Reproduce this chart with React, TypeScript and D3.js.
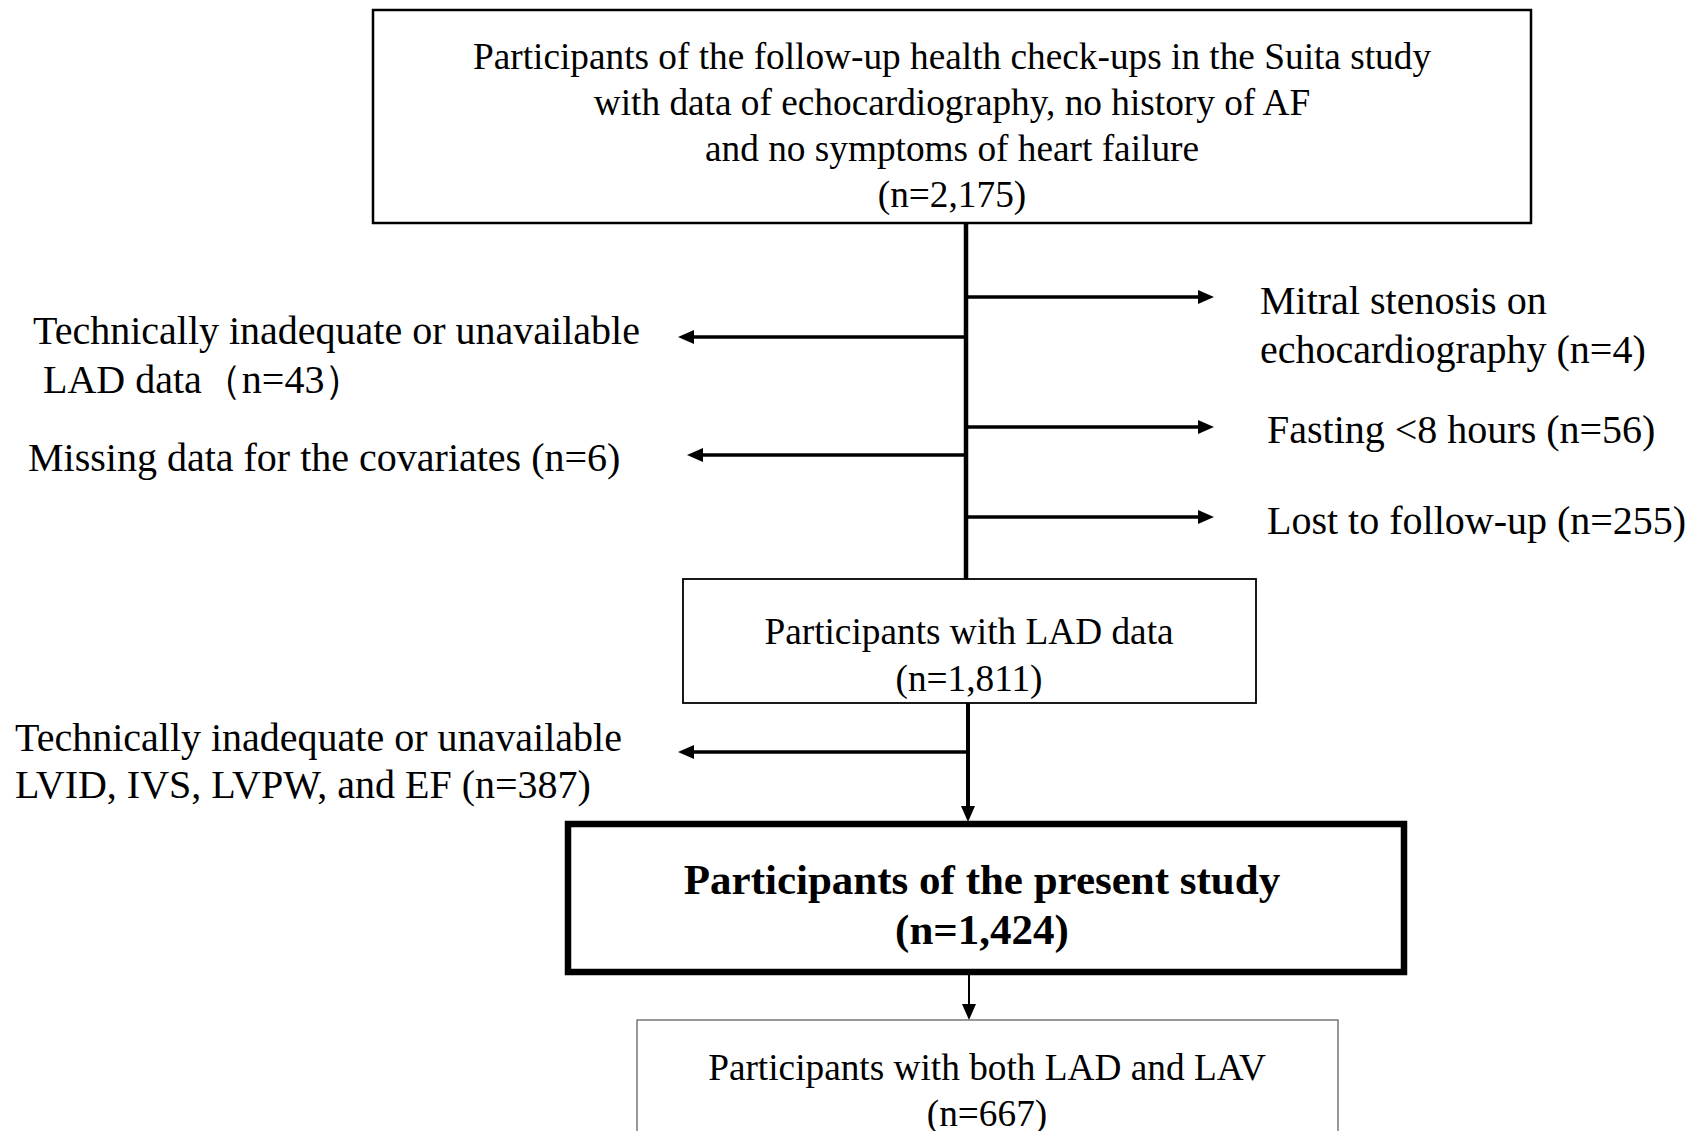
import React from 'react'
import * as d3 from 'd3'

// flow chart content
const topLines = [
  'Participants of the follow-up health check-ups in the Suita study',
  'with data of echocardiography, no history of AF',
  'and no symptoms of heart failure',
]
const topN = '2,175'
const ladLines = ['Participants with LAD data']
const ladN = '1,811'
const presentLines = ['Participants of the present study']
const presentN = '1,424'
const bothLines = ['Participants with both LAD and LAV']
const bothN = '667'

// exclusions off the first vertical line
const rightExcl = [
  ['Mitral stenosis on', 'echocardiography (n=4)'],
  ['Fasting <8 hours (n=56)'],
  ['Lost to follow-up (n=255)'],
]
const leftExcl = [
  ['Technically inadequate or unavailable', ' LAD data\uFF08n=43\uFF09'],
  ['Missing data for the covariates (n=6)'],
]
// exclusion off the second vertical line
const leftExcl2 = [['Technically inadequate or unavailable', 'LVID, IVS, LVPW, and EF (n=387)']]

const W = 1702
const H = 1131
const FONT = '"Liberation Serif", "Times New Roman", serif'
const FS_BOX = 37.3
const FS_EXCL = 40
const LH = 46

function arrowHead(x, y, dir) {
  // dir: 'r', 'l', 'd'
  const p = d3.path()
  const L = 16, hw = 7
  if (dir === 'r') { p.moveTo(x, y); p.lineTo(x - L, y - hw); p.lineTo(x - L, y + hw) }
  if (dir === 'l') { p.moveTo(x, y); p.lineTo(x + L, y - hw); p.lineTo(x + L, y + hw) }
  if (dir === 'd') { p.moveTo(x, y); p.lineTo(x - hw, y - L); p.lineTo(x + hw, y - L) }
  p.closePath()
  return p.toString()
}

function Arrow({ x1, y1, x2, y2, dir, width = 3.5 }) {
  const line = d3.line()([[x1, y1], dir === 'r' ? [x2 - 10, y2] : dir === 'l' ? [x2 + 10, y2] : [x2, y2 - 10]])
  return <g>
    <path d={line} stroke="#000" strokeWidth={width} fill="none" />
    <path d={arrowHead(x2, y2, dir)} fill="#000" />
  </g>
}

function Lines({ lines, x, y, anchor = 'start', bold = false, size = FS_BOX, lh = LH }) {
  return <text x={x} y={y} textAnchor={anchor} fontFamily={FONT} fontSize={size}
    fontWeight={bold ? 'bold' : 'normal'} fill="#000" style={{ whiteSpace: 'pre' }}>
    {lines.map((l, i) => <tspan key={i} x={x} y={y + i * lh}>{l}</tspan>)}
  </text>
}

export default function App() {
  const trunkX = 966
  const trunk2X = 968
  const rightY = [297, 427, 517]
  const leftY = [337, 455]
  const rightTextY = [302, 431, 522]
  const leftTextY = [332, 459]
  const leftTip = [678, 687]

  return (
    <svg width={W} height={H} style={{ position: 'absolute', left: 0, top: 0, background: '#fff' }}>
      <rect x={0} y={0} width={W} height={H} fill="#fff" />

      {/* top box */}
      <rect x={373} y={10} width={1531 - 373} height={223 - 10} fill="none" stroke="#000" strokeWidth={2.5} />
      <Lines lines={[...topLines, `(n=${topN})`]} x={952} y={69} anchor="middle" />

      {/* trunk */}
      <line x1={trunkX} y1={223} x2={trunkX} y2={579} stroke="#000" strokeWidth={4.5} />
      {rightY.map((y, i) => <Arrow key={'r' + i} x1={trunkX} y1={y} x2={1214} y2={y} dir="r" />)}
      {leftY.map((y, i) => <Arrow key={'l' + i} x1={trunkX} y1={y} x2={leftTip[i]} y2={y} dir="l" />)}

      {rightExcl.map((ls, i) => <Lines key={'rt' + i} lines={ls} x={i === 0 ? 1260 : 1267} y={rightTextY[i] + 12} lh={49} size={FS_EXCL} />)}
      {leftExcl.map((ls, i) => <Lines key={'lt' + i} lines={ls} x={i === 0 ? 33 : 28} y={leftTextY[i] + 12} lh={49} size={FS_EXCL} />)}

      {/* LAD box */}
      <rect x={683} y={579} width={1256 - 683} height={703 - 579} fill="none" stroke="#000" strokeWidth={1.8} />
      <Lines lines={[...ladLines, `(n=${ladN})`]} x={969} y={644} anchor="middle" lh={47} />

      {/* second trunk */}
      <Arrow x1={trunk2X} y1={703} x2={trunk2X} y2={822} dir="d" width={4} />
      <Arrow x1={trunk2X} y1={752} x2={678} y2={752} dir="l" />
      {leftExcl2.map((ls, i) => <Lines key={'l2' + i} lines={ls} x={15} y={751} lh={47} size={FS_EXCL} />)}

      {/* present study box */}
      <rect x={568} y={824} width={1404 - 568} height={972 - 824} fill="none" stroke="#000" strokeWidth={6.5} />
      <Lines lines={[...presentLines, `(n=${presentN})`]} x={982} y={894} anchor="middle" bold size={43} lh={50} />

      {/* arrow to last box */}
      <Arrow x1={969} y1={975} x2={969} y2={1020} dir="d" width={2} />

      {/* both box */}
      <rect x={637} y={1020} width={1338 - 637} height={200} fill="none" stroke="#555" strokeWidth={1.2} />
      <Lines lines={[...bothLines, `(n=${bothN})`]} x={987} y={1080} anchor="middle" lh={46} />
    </svg>
  )
}
